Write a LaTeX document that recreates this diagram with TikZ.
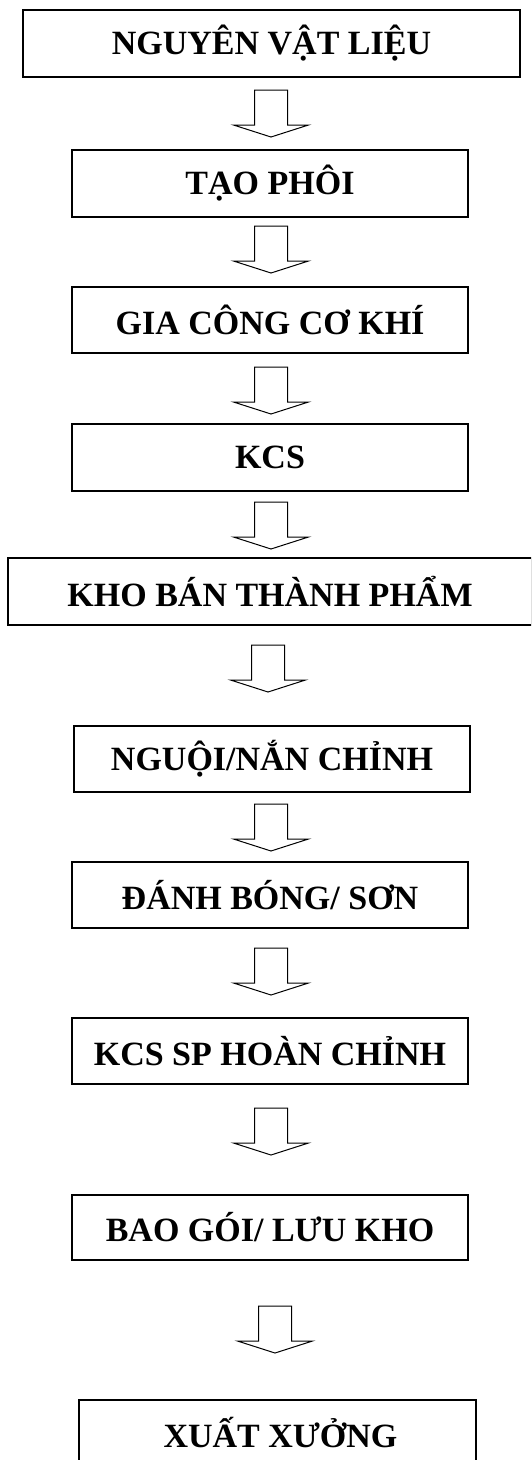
\documentclass[tikz,border=0pt]{standalone}
\usepackage{fontspec}
\setmainfont{Liberation Serif}
\begin{document}
\begin{tikzpicture}[x=1pt,y=-1pt,
  stepbox/.style={draw, line width=1.3pt, inner sep=0pt, font=\bfseries\fontsize{34}{40}\selectfont},
  arrowline/.style={draw, line width=1pt, line join=miter, fill=white},
  pics/blockarrow/.style={code={
    \draw[arrowline] (-16.5,0) -- (16.5,0) -- (16.5,35) -- (37.5,35) -- (0,47)
      -- (-37.5,35) -- (-16.5,35) -- cycle;}}]
\useasboundingbox (0,0) rectangle (531,1460);
\clip (0,0) rectangle (531,1460);
\node[stepbox, minimum width=497pt, minimum height=67pt] (b1) at (271.5,43.5) {NGUYÊN VẬT LIỆU};
\node[stepbox, minimum width=396pt, minimum height=67pt] (b2) at (270,183.5) {TẠO PHÔI};
\node[stepbox, minimum width=396pt, minimum height=66pt] (b3) at (270,320) {GIA CÔNG CƠ KHÍ};
\node[stepbox, minimum width=396pt, minimum height=67pt] (b4) at (270,457.5) {KCS};
\node[stepbox, minimum width=524pt, minimum height=67pt] (b5) at (270,591.5) {KHO BÁN THÀNH PHẨM};
\node[stepbox, minimum width=396pt, minimum height=66pt] (b6) at (272,759) {NGUỘI/NẮN CHỈNH};
\node[stepbox, minimum width=396pt, minimum height=66pt] (b7) at (270,895) {ĐÁNH BÓNG/ SƠN};
\node[stepbox, minimum width=396pt, minimum height=66pt] (b8) at (270,1051) {KCS SP HOÀN CHỈNH};
\node[stepbox, minimum width=396pt, minimum height=65pt] (b9) at (270,1227.5) {BAO GÓI/ LƯU KHO};
\node[stepbox, minimum width=397pt, minimum height=66pt] (b10) at (277.5,1433) {\raisebox{-4pt}{\hspace{6pt}XUẤT XƯỞNG}};
\pic at (271,90) {blockarrow};
\pic at (271,226) {blockarrow};
\pic at (271,367) {blockarrow};
\pic at (271,502) {blockarrow};
\pic at (268,645) {blockarrow};
\pic at (271,804) {blockarrow};
\pic at (271,948) {blockarrow};
\pic at (271,1108) {blockarrow};
\pic at (275,1306) {blockarrow};
\end{tikzpicture}
\end{document}
